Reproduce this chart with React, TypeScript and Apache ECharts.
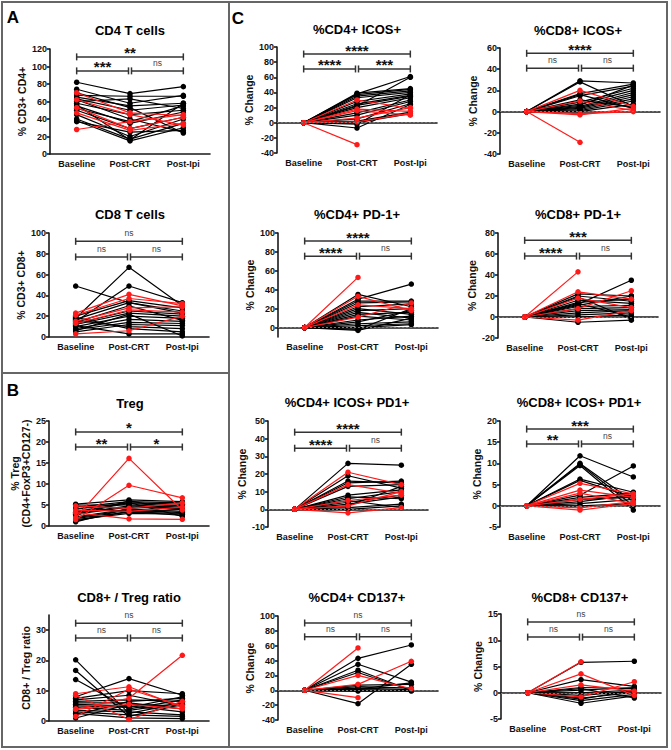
import React, { useEffect, useRef } from 'react';
import * as echarts from 'echarts';

const FONT = '"Liberation Sans", Arial, sans-serif';
const CATEGORIES = ['Baseline', 'Post-CRT', 'Post-Ipi'];

// ---------- Panel A ----------
const cd4TBlack = [
  [82, 69, 77], [74, 58, 67], [67, 66, 66], [65, 55, 58], [63, 50, 56], [60, 63, 52],
  [58, 45, 50], [55, 35, 48], [52, 37, 55], [50, 29, 42], [45, 20, 40], [40, 17, 35],
  [38, 15, 30], [37, 25, 27], [62, 40, 25], [70, 53, 24], [56, 16, 58],
];
const cd4TRed = [[70, 47, 44], [62, 45, 33], [53, 29, 42], [47, 27, 35], [28, 37, 45]];
const cd4TTicks = [0, 20, 40, 60, 80, 100, 120];
const cd4TSig = [[0, 2, 111, '**'], [0, 1, 95, '***'], [1, 2, 95, 'ns']];

const cd8TBlack = [
  [49, 33, 23], [18, 67, 30], [15, 49, 33], [20, 35, 28], [17, 33, 25], [13, 25, 22],
  [12, 23, 20], [10, 20, 18], [8, 17, 15], [7, 14, 13], [5, 12, 11], [16, 10, 8],
  [19, 8, 5], [11, 3, 3], [6, 22, 1], [14, 30, 16],
];
const cd8TRed = [[23, 41, 30], [21, 37, 32], [15, 28, 29], [3, 6, 20], [13, 26, 24]];
const cd8TTicks = [0, 20, 40, 60, 80, 100];
const cd8TSig = [[0, 2, 92, 'ns'], [0, 1, 77, 'ns'], [1, 2, 77, 'ns']];

// ---------- Panel B ----------
const tregBlack = [
  [5.2, 6.2, 5.8], [5.0, 5.0, 4.5], [4.5, 5.8, 5.5], [4.0, 5.5, 5.2], [3.5, 5.3, 4.8],
  [3.0, 4.8, 4.2], [2.8, 4.5, 4.0], [2.5, 6.0, 3.8], [2.2, 4.0, 3.5], [2.0, 3.8, 3.2],
  [1.8, 3.3, 3.0], [1.5, 3.0, 2.8], [1.2, 3.5, 2.5], [1.0, 4.2, 5.0], [3.2, 5.6, 2.3],
  [4.8, 3.2, 4.0],
];
const tregRed = [[2.0, 16.1, 3.8], [1.5, 9.7, 6.7], [4.8, 4.2, 5.5], [3.8, 3.5, 4.5], [3.2, 1.7, 1.6]];
const tregTicks = [0, 5, 10, 15, 20, 25];
const tregSig = [[0, 2, 22.4, '*'], [0, 1, 18.8, '**'], [1, 2, 18.8, '*']];

const ratioBlack = [
  [20.2, 2.5, 6.0], [16.7, 1.5, 5.5], [13.7, 4.0, 7.0], [8.0, 14.0, 8.5], [7.5, 10.0, 9.0],
  [7.0, 8.5, 5.0], [6.5, 7.0, 6.5], [6.0, 6.0, 4.0], [5.5, 5.0, 3.0], [5.0, 4.5, 8.0],
  [4.5, 3.5, 6.0], [3.5, 3.0, 2.0], [3.0, 2.0, 1.5], [2.5, 1.0, 0.8], [2.0, 6.5, 7.5],
  [1.0, 5.5, 5.0],
];
const ratioRed = [[4.0, 7.5, 21.7], [9.0, 11.3, 4.5], [8.5, 0.5, 6.5], [1.5, 10.5, 5.0], [3.8, 5.5, 4.0]];
const ratioTicks = [0, 10, 20, 30];
const ratioSig = [[0, 2, 32.3, 'ns'], [0, 1, 27.4, 'ns'], [1, 2, 27.4, 'ns']];

// ---------- Panel C ----------
const cd4IcosBlack = [
  [0, 38, 61], [0, 22, 60], [0, 39, 45], [0, 37, 44], [0, 35, 42], [0, 33, 40],
  [0, 28, 38], [0, 25, 36], [0, 23, 35], [0, 20, 33], [0, 13, 30], [0, 10, 28],
  [0, 5, 25], [0, 2, 14], [0, 0, 12], [0, -2, 37], [0, -7, 24],
];
const cd4IcosRed = [[0, 30, 19], [0, 18, 15], [0, 16, 10], [0, 6, 20], [0, -29, null], [0, 1, 12]];
const cd4IcosTicks = [-40, -20, 0, 20, 40, 60, 80, 100];
const cd4IcosSig = [[0, 2, 90.7, '****'], [0, 1, 71, '****'], [1, 2, 71, '***']];

const cd8IcosBlack = [
  [0, 29, 27], [0, 28, 5], [0, 17, 26], [0, 15, 24], [0, 9, 22], [0, 7, 20],
  [0, 5, 18], [0, 4, 16], [0, 3, 14], [0, 2, 12], [0, 1, 10], [0, 0, 7],
  [0, 16, 3], [0, 6, 25], [0, 11, 4],
];
const cd8IcosRed = [[0, 20, 5], [0, 10, 1], [0, -2, 0], [0, -3, 3], [0, -29, null]];
const cd8IcosTicks = [-40, -20, 0, 20, 40, 60];
const cd8IcosSig = [[0, 2, 55, '****'], [0, 1, 41, 'ns'], [1, 2, 41, 'ns']];

const cd4Pd1Black = [
  [0, 30, 46], [0, 35, 22], [0, 28, 28], [0, 26, 27], [0, 22, 25], [0, 20, 14],
  [0, 18, 20], [0, 16, 10], [0, 14, 16], [0, 12, 8], [0, 8, 12], [0, 6, 18],
  [0, 4, 6], [0, 2, 4], [0, 0, 3], [0, -2, 20], [0, -3, 10],
];
const cd4Pd1Red = [[0, 53, null], [0, 33, 18], [0, 24, 20], [0, 11, 26]];
const cd4Pd1Ticks = [0, 20, 40, 60, 80, 100];
const cd4Pd1Sig = [[0, 2, 91.5, '****'], [0, 1, 75.5, '****'], [1, 2, 75.5, 'ns']];

const cd8Pd1Black = [
  [0, 12, 35], [0, 22, 20], [0, 20, 15], [0, 16, 13], [0, 14, 17], [0, 10, 11],
  [0, 8, 9], [0, 6, 7], [0, 4, 6], [0, 2, 4], [0, 0, 2], [0, -5, -3],
  [0, 19, -2], [0, 13, 0], [0, 11, 20],
];
const cd8Pd1Red = [[0, 43, null], [0, 24, 17], [0, 18, 9], [0, 8, 25], [0, -3, 6]];
const cd8Pd1Ticks = [-20, 0, 20, 40, 60, 80];
const cd8Pd1Sig = [[0, 2, 73, '***'], [0, 1, 58, '****'], [1, 2, 58, 'ns']];

const cd4IcosPd1Black = [
  [0, 26, 25], [0, 19, 12], [0, 16, 15], [0, 15, 16], [0, 13, 14], [0, 8, 11],
  [0, 6, 10], [0, 4, 8], [0, 3, 7], [0, 2, 13], [0, 1, 3], [0, 0, 2],
  [0, 5, 1], [0, 7, 6],
];
const cd4IcosPd1Red = [[0, 21, 14], [0, 14, 9], [0, 5, 8], [0, 2, 10], [0, -2, 1]];
const cd4IcosPd1Ticks = [-10, 0, 10, 20, 30, 40, 50];
const cd4IcosPd1Sig = [[0, 2, 43.7, '****'], [0, 1, 34.6, '****'], [1, 2, 34.6, 'ns']];

const cd8IcosPd1Black = [
  [0, 11.8, 6.8], [0, 10.0, 1.0], [0, 9.5, -1.0], [0, 6.3, 3.2], [0, 6.0, 2.0],
  [0, 2.5, 9.4], [0, 2.0, 3.0], [0, 1.0, 2.5], [0, 0.5, 1.5], [0, 0.0, 0.5],
  [0, 9.8, 0.0], [0, 1.5, 2.0],
];
const cd8IcosPd1Red = [[0, 5.3, 2.8], [0, 3.7, 2.0], [0, 3.0, 0.5], [0, 1.5, 2.8], [0, -0.5, 1.0], [0, -1.0, 0.5]];
const cd8IcosPd1Ticks = [-5, 0, 5, 10, 15, 20];
const cd8IcosPd1Sig = [[0, 2, 18.1, '***'], [0, 1, 14.6, '**'], [1, 2, 14.6, 'ns']];

const cd4Cd137Black = [
  [0, 43, 61], [0, 35, 11], [0, 27, 0], [0, 24, 0], [0, 7, 8], [0, 5, 3],
  [0, 3, 1], [0, 1, 0], [0, 0, -1], [0, -1, 0], [0, -18, 35], [0, 2, 10],
];
const cd4Cd137Red = [[0, 57, null], [0, 20, 2], [0, 8, 39], [0, -10, null]];
const cd4Cd137Ticks = [-40, -20, 0, 20, 40, 60, 80, 100];
const cd4Cd137Sig = [[0, 2, 90.6, 'ns'], [0, 1, 72, 'ns'], [1, 2, 72, 'ns']];

const cd8Cd137Black = [
  [0, 5.8, 6.0], [0, 2.5, 1.2], [0, 1.0, 0.8], [0, 0.5, 1.0], [0, 0.0, 0.5],
  [0, -0.5, 0.3], [0, -1.0, 0.0], [0, -1.5, -0.3], [0, -2.0, -0.6], [0, 0.8, -1.0],
  [0, -1.2, 0.5],
];
const cd8Cd137Red = [[0, 5.9, null], [0, 3.6, -0.5], [0, 1.5, 0.3], [0, -0.8, 2.1]];
const cd8Cd137Ticks = [-5, 0, 5, 10, 15];
const cd8Cd137Sig = [[0, 2, 13.5, 'ns'], [0, 1, 10.6, 'ns'], [1, 2, 10.6, 'ns']];

const CHARTS = [
  { title: 'CD4 T cells', yName: '% CD3+ CD4+', min: 0, max: 120, ticks: cd4TTicks, black: cd4TBlack, red: cd4TRed, sig: cd4TSig, zero: false },
  { title: 'CD8 T cells', yName: '% CD3+ CD8+', min: 0, max: 100, ticks: cd8TTicks, black: cd8TBlack, red: cd8TRed, sig: cd8TSig, zero: false },
  { title: 'Treg', yName: '% Treg\n(CD4+FoxP3+CD127-)', min: 0, max: 25, ticks: tregTicks, black: tregBlack, red: tregRed, sig: tregSig, zero: false },
  { title: 'CD8+ / Treg ratio', yName: 'CD8+ / Treg ratio', min: 0, max: 35, ticks: ratioTicks, black: ratioBlack, red: ratioRed, sig: ratioSig, zero: false },
  { title: '%CD4+ ICOS+', yName: '% Change', min: -40, max: 100, ticks: cd4IcosTicks, black: cd4IcosBlack, red: cd4IcosRed, sig: cd4IcosSig, zero: true },
  { title: '%CD8+ ICOS+', yName: '% Change', min: -40, max: 60, ticks: cd8IcosTicks, black: cd8IcosBlack, red: cd8IcosRed, sig: cd8IcosSig, zero: true },
  { title: '%CD4+ PD-1+', yName: '% Change', min: -10, max: 100, ticks: cd4Pd1Ticks, black: cd4Pd1Black, red: cd4Pd1Red, sig: cd4Pd1Sig, zero: true },
  { title: '%CD8+ PD-1+', yName: '% Change', min: -20, max: 80, ticks: cd8Pd1Ticks, black: cd8Pd1Black, red: cd8Pd1Red, sig: cd8Pd1Sig, zero: true },
  { title: '%CD4+ ICOS+ PD1+', yName: '% Change', min: -10, max: 50, ticks: cd4IcosPd1Ticks, black: cd4IcosPd1Black, red: cd4IcosPd1Red, sig: cd4IcosPd1Sig, zero: true },
  { title: '%CD8+ ICOS+ PD1+', yName: '% Change', min: -5, max: 20, ticks: cd8IcosPd1Ticks, black: cd8IcosPd1Black, red: cd8IcosPd1Red, sig: cd8IcosPd1Sig, zero: true },
  { title: '%CD4+ CD137+', yName: '% Change', min: -40, max: 100, ticks: cd4Cd137Ticks, black: cd4Cd137Black, red: cd4Cd137Red, sig: cd4Cd137Sig, zero: true },
  { title: '%CD8+ CD137+', yName: '% Change', min: -5, max: 15, ticks: cd8Cd137Ticks, black: cd8Cd137Black, red: cd8Cd137Red, sig: cd8Cd137Sig, zero: true },
];

// Layout (pixels)
const LAYOUT = [
  { left: 50, top: 49, height: 105, titleX: 130, titleY: 30, nameGap: 18 },
  { left: 49, top: 233, height: 104, titleX: 130, titleY: 214, nameGap: 18 },
  { left: 49, top: 421, height: 105, titleX: 130, titleY: 403, nameGap: 11 },
  { left: 49, top: 615, height: 106, titleX: 129, titleY: 597, nameGap: 16 },
  { left: 277, top: 47, height: 106, titleX: 357, titleY: 29, nameGap: 21 },
  { left: 500, top: 48, height: 106, titleX: 578, titleY: 30, nameGap: 21 },
  { left: 278, top: 233, height: 104, titleX: 357, titleY: 214, nameGap: 22 },
  { left: 498, top: 233, height: 105, titleX: 578, titleY: 214, nameGap: 20 },
  { left: 268, top: 421, height: 106, titleX: 347, titleY: 402, nameGap: 19 },
  { left: 500, top: 421, height: 106, titleX: 579, titleY: 402, nameGap: 17 },
  { left: 278, top: 616, height: 104, titleX: 357, titleY: 597, nameGap: 22 },
  { left: 501, top: 614, height: 105, titleX: 580, titleY: 597, nameGap: 17 },
];
const GRID_WIDTH = 160;
const AXIS_COLOR = '#1a1a1a';
const RED = '#ff1a1a';
const BORDER = '#666666';

function buildOption() {
  const grid: any[] = [];
  const xAxis: any[] = [];
  const yAxis: any[] = [];
  const series: any[] = [];
  const graphic: any[] = [];

  CHARTS.forEach((c, i) => {
    const l = LAYOUT[i];
    grid.push({ left: l.left, top: l.top, width: GRID_WIDTH, height: l.height });
    xAxis.push({
      type: 'category', gridIndex: i, data: CATEGORIES, boundaryGap: true,
      axisLine: { lineStyle: { color: AXIS_COLOR, width: 1.6 } },
      axisTick: { alignWithLabel: true, length: 3, lineStyle: { color: AXIS_COLOR, width: 1.6 } },
      axisLabel: { interval: 0, fontSize: 9, fontWeight: 'bold', color: '#111', fontFamily: FONT, margin: 5 },
      splitLine: { show: false },
    });
    yAxis.push({
      type: 'value', gridIndex: i, min: c.min, max: c.max,
      axisLine: { show: true, lineStyle: { color: AXIS_COLOR, width: 1.6 } },
      axisTick: { show: true, length: 3, customValues: c.ticks, lineStyle: { color: AXIS_COLOR, width: 1.6 } },
      axisLabel: { customValues: c.ticks, fontSize: 9, fontWeight: 'bold', color: '#111', fontFamily: FONT, margin: 3 },
      splitLine: { show: false },
      name: c.yName, nameLocation: 'middle', nameRotate: 90, nameGap: l.nameGap,
      nameTextStyle: { fontSize: 10.5, fontWeight: 'bold', color: '#111', fontFamily: FONT, lineHeight: 11.5 },
    });

    const addLine = (row: any[], color: string, z: number, k: number) => {
      const s: any = {
        type: 'line', xAxisIndex: i, yAxisIndex: i, data: row, symbol: 'circle', symbolSize: 5.5,
        itemStyle: { color }, lineStyle: { color, width: 1.2 }, silent: true, z, connectNulls: false,
      };
      if (c.zero && k === 0 && color !== RED) {
        s.markLine = {
          silent: true, symbol: 'none', label: { show: false },
          lineStyle: { color: '#777', type: [2, 2], width: 1.2 },
          data: [{ yAxis: 0 }],
        };
      }
      series.push(s);
    };
    c.black.forEach((row, k) => addLine(row, '#000', 3, k));
    c.red.forEach((row, k) => addLine(row, RED, 4, k));

    const sig = c.sig;
    series.push({
      type: 'custom', xAxisIndex: i, yAxisIndex: i, clip: false, silent: true, z: 6,
      data: sig.map((s) => [s[0], s[2], s[1]]),
      encode: { x: 0, y: 1 },
      renderItem: (params: any, api: any) => {
        const s = sig[params.dataIndex];
        const x1 = s[0] as number;
        const x2 = s[1] as number;
        const y = s[2] as number;
        const label = s[3] as string;
        const p1 = api.coord([x1, y]);
        const p2 = api.coord([x2, y]);
        const gap = 1.5;
        const xa = p1[0] + (x1 === 1 ? gap : 0);
        const xb = p2[0] - (x2 === 1 ? gap : 0);
        const yy = p1[1];
        const ns = label === 'ns';
        const st = { stroke: '#333', lineWidth: 1.5 };
        return {
          type: 'group',
          children: [
            { type: 'line', shape: { x1: xa, y1: yy, x2: xb, y2: yy }, style: st },
            { type: 'line', shape: { x1: xa, y1: yy - 3.5, x2: xa, y2: yy + 3.5 }, style: st },
            { type: 'line', shape: { x1: xb, y1: yy - 3.5, x2: xb, y2: yy + 3.5 }, style: st },
            {
              type: 'text', x: (xa + xb) / 2, y: ns ? yy - 8 : yy - 4,
              style: {
                text: label, align: 'center', verticalAlign: 'middle',
                fontSize: ns ? 8.5 : 15, fontWeight: ns ? 'normal' : 'bold',
                fontFamily: FONT, fill: ns ? '#444' : '#111',
              },
            },
          ],
        };
      },
    });

    graphic.push({
      type: 'text', x: l.titleX, y: l.titleY,
      style: { text: c.title, align: 'center', verticalAlign: 'middle', fontSize: 13, fontWeight: 'bold', fontFamily: FONT, fill: '#000' },
    });
  });

  graphic.push(
    { type: 'rect', shape: { x: 2, y: 2, width: 665, height: 745 }, style: { fill: 'none', stroke: BORDER, lineWidth: 2 } },
    { type: 'line', shape: { x1: 229, y1: 2, x2: 229, y2: 747 }, style: { stroke: BORDER, lineWidth: 2 } },
    { type: 'line', shape: { x1: 2, y1: 373, x2: 229, y2: 373 }, style: { stroke: BORDER, lineWidth: 2 } },
    { type: 'text', x: 13, y: 17, style: { text: 'A', align: 'center', verticalAlign: 'middle', fontSize: 17, fontWeight: 'bold', fontFamily: FONT, fill: '#000' } },
    { type: 'text', x: 13, y: 390, style: { text: 'B', align: 'center', verticalAlign: 'middle', fontSize: 17, fontWeight: 'bold', fontFamily: FONT, fill: '#000' } },
    { type: 'text', x: 238, y: 18, style: { text: 'C', align: 'center', verticalAlign: 'middle', fontSize: 17, fontWeight: 'bold', fontFamily: FONT, fill: '#000' } },
  );

  return { animation: false, backgroundColor: '#fff', grid, xAxis, yAxis, series, graphic };
}

export default function App() {
  const ref = useRef<HTMLDivElement>(null);
  useEffect(() => {
    if (!ref.current) return;
    const chart = echarts.init(ref.current, undefined, { renderer: 'svg' });
    chart.setOption(buildOption() as any);
    return () => chart.dispose();
  }, []);
  return (
    <div
      ref={ref}
      style={{ position: 'absolute', left: 0, top: 0, width: 671, height: 750, background: '#fff' }}
    />
  );
}
